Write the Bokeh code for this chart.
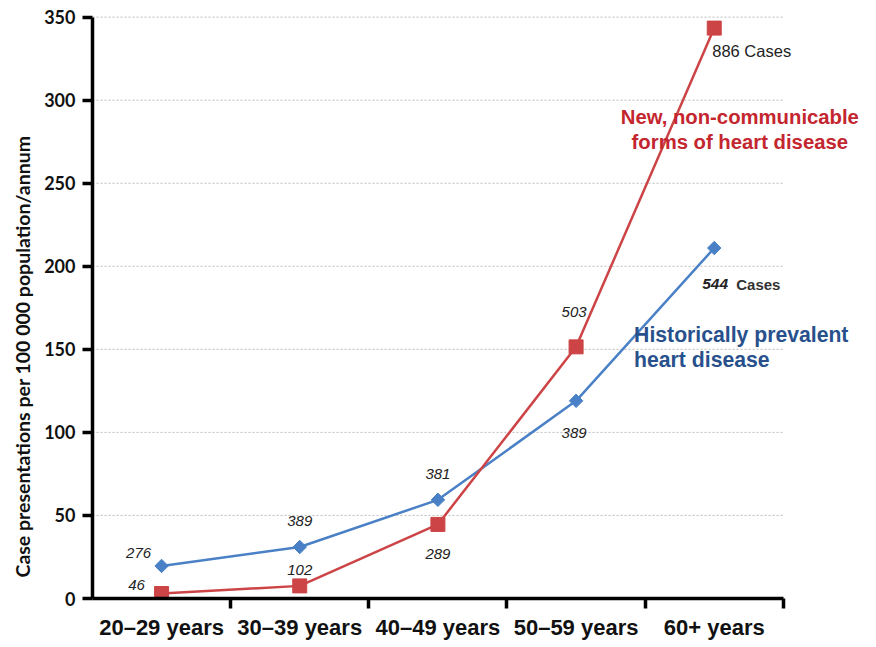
from bokeh.plotting import figure
from bokeh.models import Range1d, FixedTicker, Title
from bokeh.core.properties import value
from bokeh.embed import file_html
from bokeh.resources import INLINE
import math

categories = ["20–29 years", "30–39 years", "40–49 years", "50–59 years", "60+ years"]
historic_rate = [19.6, 31, 59.4, 119, 211]
new_rate = [3, 7.6, 44.6, 151.5, 343.4]
historic_cases = ["276", "389", "381", "389", "544"]
new_cases = ["46", "102", "289", "503", "886"]
y_ticks = [0, 50, 100, 150, 200, 250, 300, 350]
y_title = "Case presentations per 100 000 population/annum"

RED = "#cc4446"
BLUE = "#4a80c6"
RED_TXT = "#c4262f"
BLUE_TXT = "#27508c"

xs = [i + 0.5 for i in range(len(categories))]
n = len(categories)

p = figure(frame_width=770, frame_height=588, output_backend="svg", toolbar_location=None,
           x_range=Range1d(0, 5.573), y_range=Range1d(0, 354),
           min_border_left=92, min_border_right=0, min_border_top=10, min_border_bottom=41)
p.outline_line_color = None
p.background_fill_color = "white"
p.border_fill_color = "white"
p.xgrid.visible = False
p.ygrid.visible = False

# grid lines spanning only the category area
p.segment(x0=[0] * (len(y_ticks) - 1), x1=[n] * (len(y_ticks) - 1), y0=y_ticks[1:], y1=y_ticks[1:],
          line_color="#bdbdbd", line_width=1, line_dash="2 2")

# lines
p.line(xs, historic_rate, line_color=BLUE, line_width=2.5)
p.line(xs, new_rate, line_color=RED, line_width=2.5)
p.scatter(xs, historic_rate, marker="square", size=9.5, angle=math.pi / 4,
          fill_color=BLUE, line_color=BLUE)
p.scatter(xs, new_rate, marker="square", size=14, fill_color=RED, line_color=RED)

# value labels
num_font = value("Liberation Sans")
bx_off = [-23, 0, 0, -2, -12]
by_off = [-13, -26, -26, 32, 36]
rx_off = [-25, 0, 0, -2, -2]
ry_off = [-9, -16, 30, -35, 23]
for i in range(n):
    if i < n - 1:
        p.text([xs[i]], [historic_rate[i]], text=[historic_cases[i]], x_offset=bx_off[i], y_offset=by_off[i],
               text_font=num_font, text_font_style="italic", text_font_size="15px",
               text_color="#222222", text_align="center", text_baseline="middle")
        p.text([xs[i]], [new_rate[i]], text=[new_cases[i]], x_offset=rx_off[i], y_offset=ry_off[i],
               text_font=num_font, text_font_style="italic", text_font_size="15px",
               text_color="#222222", text_align="center", text_baseline="middle")
    else:
        p.text([xs[i]], [historic_rate[i]], text=[historic_cases[i]], x_offset=bx_off[i], y_offset=by_off[i],
               text_font=num_font, text_font_style="bold italic", text_font_size="15.5px",
               text_color="#222222", text_align="left", text_baseline="middle")
        p.text([xs[i]], [historic_rate[i]], text=["Cases"], x_offset=bx_off[i] + 34, y_offset=by_off[i],
               text_font=num_font, text_font_style="bold", text_font_size="15px",
               text_color="#333333", text_align="left", text_baseline="middle")
        p.text([xs[i]], [new_rate[i]], text=[new_cases[i] + " Cases"], x_offset=rx_off[i], y_offset=ry_off[i],
               text_font=num_font, text_font_style="normal", text_font_size="16.5px",
               text_color="#222222", text_align="left", text_baseline="middle")

# series annotations
ann_font = value("Liberation Sans")
for txt, yy in [("New, non-communicable", 290), ("forms of heart disease", 275)]:
    p.text([4.685], [yy], text=[txt], text_font=ann_font, text_font_style="bold", text_font_size="20.3px",
           text_color=RED_TXT, text_align="center", text_baseline="middle")
for txt, yy in [("Historically prevalent", 158.8), ("heart disease", 143.8)]:
    p.text([3.92], [yy], text=[txt], text_font=ann_font, text_font_style="bold", text_font_size="21.2px",
           text_color=BLUE_TXT, text_align="left", text_baseline="middle")

# x axis
xa = p.xaxis[0]
xa.ticker = FixedTicker(ticks=xs, minor_ticks=list(range(1, n + 1)))
xa.major_label_overrides = {x: c for x, c in zip(xs, categories)}
xa.bounds = (0, n)
xa.axis_line_width = 3.5
xa.axis_line_color = "black"
xa.major_tick_line_color = None
xa.major_tick_out = 0
xa.major_tick_in = 0
xa.minor_tick_line_color = "black"
xa.minor_tick_line_width = 3.5
xa.minor_tick_out = 10
xa.minor_tick_in = 0
xa.major_label_standoff = 6
xa.major_label_text_font = "Liberation Sans"
xa.major_label_text_font_style = "bold"
xa.major_label_text_font_size = "22px"
xa.major_label_text_color = "#111111"

# y axis
ya = p.yaxis[0]
ya.ticker = FixedTicker(ticks=y_ticks, minor_ticks=[])
ya.bounds = (0, 350)
ya.axis_line_width = 3.5
ya.axis_line_color = "black"
ya.major_tick_line_width = 3.5
ya.major_tick_line_color = "black"
ya.major_tick_out = 10
ya.major_tick_in = 0
ya.major_label_standoff = 7
ya.major_label_text_font = "Lato"
ya.major_label_text_font_style = "bold"
ya.major_label_text_font_size = "18px"
ya.major_label_text_color = "#111111"

p.add_layout(Title(text=y_title, align="left", offset=21, standoff=15,
                   text_font="Lato", text_font_style="bold", text_font_size="19.5px",
                   text_color="#111111"), "left")

open("out.html", "w").write(file_html(p, INLINE))
